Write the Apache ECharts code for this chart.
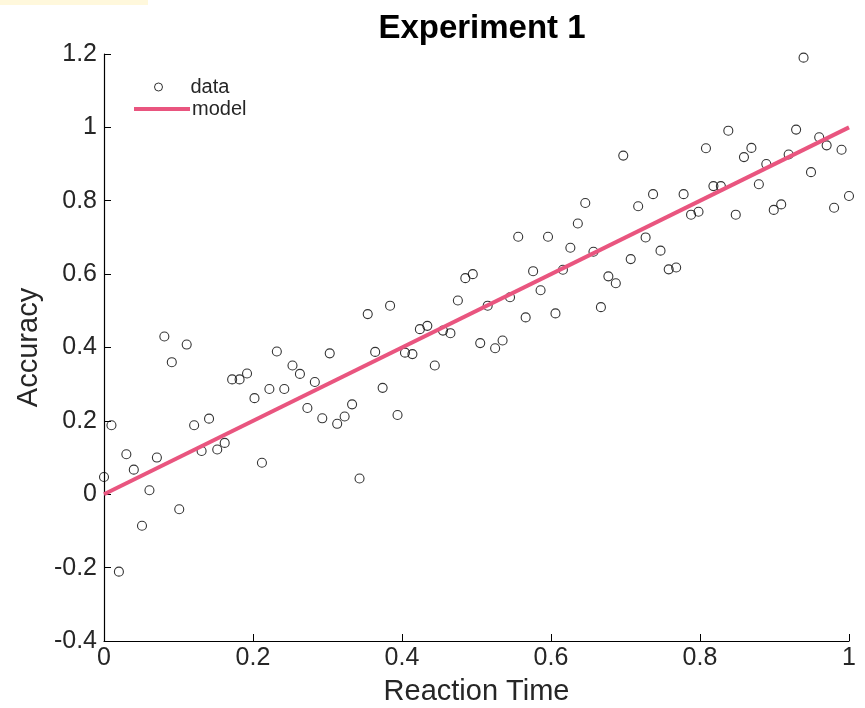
<!DOCTYPE html>
<html>
<head>
<meta charset="utf-8">
<script src="https://cdn.jsdelivr.net/npm/echarts@6/dist/echarts.min.js"></script>
<style>html,body{margin:0;padding:0;background:#fff;}#c{width:865px;height:708px;}</style>
</head>
<body>
<div id="c"></div>
<script>
var titleText = 'Experiment 1';
var xName = 'Reaction Time';
var yName = 'Accuracy';
var xTicks = [0, 0.2, 0.4, 0.6, 0.8, 1];
var yTicks = [-0.4, -0.2, 0, 0.2, 0.4, 0.6, 0.8, 1, 1.2];
var reactionTime = [0.000, 0.010, 0.020, 0.030, 0.040, 0.051, 0.061, 0.071, 0.081, 0.091,
  0.101, 0.111, 0.121, 0.131, 0.141, 0.152, 0.162, 0.172, 0.182, 0.192,
  0.202, 0.212, 0.222, 0.232, 0.242, 0.253, 0.263, 0.273, 0.283, 0.293,
  0.303, 0.313, 0.323, 0.333, 0.343, 0.354, 0.364, 0.374, 0.384, 0.394,
  0.404, 0.414, 0.424, 0.434, 0.444, 0.455, 0.465, 0.475, 0.485, 0.495,
  0.505, 0.515, 0.525, 0.535, 0.545, 0.556, 0.566, 0.576, 0.586, 0.596,
  0.606, 0.616, 0.626, 0.636, 0.646, 0.657, 0.667, 0.677, 0.687, 0.697,
  0.707, 0.717, 0.727, 0.737, 0.747, 0.758, 0.768, 0.778, 0.788, 0.798,
  0.808, 0.818, 0.828, 0.838, 0.848, 0.859, 0.869, 0.879, 0.889, 0.899,
  0.909, 0.919, 0.929, 0.939, 0.949, 0.960, 0.970, 0.980, 0.990, 1.000];
var accuracy = [0.047, 0.188, -0.211, 0.109, 0.067, -0.086, 0.011, 0.100, 0.430, 0.360,
  -0.041, 0.408, 0.188, 0.118, 0.206, 0.122, 0.140, 0.313, 0.313, 0.329,
  0.262, 0.086, 0.287, 0.389, 0.287, 0.351, 0.328, 0.235, 0.306, 0.207,
  0.384, 0.192, 0.212, 0.245, 0.043, 0.491, 0.388, 0.290, 0.514, 0.216,
  0.386, 0.382, 0.450, 0.459, 0.351, 0.446, 0.439, 0.528, 0.589, 0.600,
  0.412, 0.514, 0.398, 0.419, 0.537, 0.702, 0.482, 0.608, 0.556, 0.702,
  0.493, 0.612, 0.672, 0.738, 0.794, 0.661, 0.510, 0.594, 0.575, 0.923,
  0.641, 0.785, 0.700, 0.818, 0.664, 0.613, 0.618, 0.818, 0.762, 0.770,
  0.943, 0.840, 0.840, 0.991, 0.762, 0.919, 0.944, 0.845, 0.900, 0.775,
  0.790, 0.926, 0.994, 1.190, 0.878, 0.973, 0.951, 0.781, 0.939, 0.813];
var modelX = [0, 1];
var modelY = [0, 1];

var pink = '#e9557f';
var txt = '#262626';
var font = 'Liberation Sans, Arial, Helvetica, sans-serif';

var chart = echarts.init(document.getElementById('c'), null, {renderer: 'canvas'});
var scatterData = reactionTime.map(function (x, i) { return [x, accuracy[i]]; });
var lineData = modelX.map(function (x, i) { return [x, modelY[i]]; });

chart.setOption({
  animation: false,
  backgroundColor: '#fff',
  graphic: [{type: 'rect', left: 0, top: 0, shape: {width: 148, height: 5}, style: {fill: '#fff8dc'}, silent: true}],
  title: {
    text: titleText, left: 477, top: 7, textAlign: 'center',
    textStyle: {fontFamily: font, fontSize: 33, fontWeight: 'bold', color: '#000'}
  },
  grid: {left: 104, right: 16, top: 54, bottom: 67, containLabel: false, outerBoundsMode: 'none'},
  legend: [{
    data: [{name: 'data', icon: 'circle',
            itemStyle: {color: 'rgba(255,255,255,0)', borderColor: '#000', borderWidth: 1}}],
    left: 149, top: 72, orient: 'vertical', itemWidth: 10, itemHeight: 8, itemGap: 4,
    textStyle: {fontFamily: font, fontSize: 20, color: txt, padding: [0, 0, 0, 22]}
  }, {
    data: [{name: 'model', icon: 'rect', itemStyle: {color: pink}}],
    left: 129, top: 94, orient: 'vertical', itemWidth: 56, itemHeight: 4, itemGap: 4,
    textStyle: {fontFamily: font, fontSize: 20, color: txt, padding: [0, 0, 0, -3]}
  }],
  xAxis: {
    type: 'value', min: xTicks[0], max: xTicks[xTicks.length - 1], interval: 0.2,
    name: xName, nameLocation: 'middle', nameGap: 36,
    nameTextStyle: {fontFamily: font, fontSize: 29, color: txt},
    axisLine: {show: true, onZero: false, lineStyle: {color: '#000', width: 1.2}},
    axisTick: {show: true, inside: true, length: 7, lineStyle: {color: '#000'}},
    axisLabel: {fontFamily: font, fontSize: 25, color: txt, margin: 5},
    splitLine: {show: false}
  },
  yAxis: {
    type: 'value', min: yTicks[0], max: yTicks[yTicks.length - 1], interval: 0.2,
    name: yName, nameLocation: 'middle', nameGap: 58, nameRotate: 90,
    nameTextStyle: {fontFamily: font, fontSize: 29, color: txt},
    axisLine: {show: true, onZero: false, lineStyle: {color: '#000', width: 1.2}},
    axisTick: {show: true, inside: true, length: 7, lineStyle: {color: '#000'}},
    axisLabel: {fontFamily: font, fontSize: 25, color: txt, margin: 7},
    splitLine: {show: false}
  },
  series: [{
    name: 'data', type: 'scatter', data: scatterData, symbol: 'circle', symbolSize: 9,
    itemStyle: {color: 'rgba(255,255,255,0)', borderColor: '#000', borderWidth: 1.1},
    z: 2
  }, {
    name: 'model', type: 'line', data: lineData, symbol: 'none', showSymbol: false,
    lineStyle: {color: pink, width: 4}, itemStyle: {color: pink},
    z: 3
  }]
});
</script>
</body>
</html>
